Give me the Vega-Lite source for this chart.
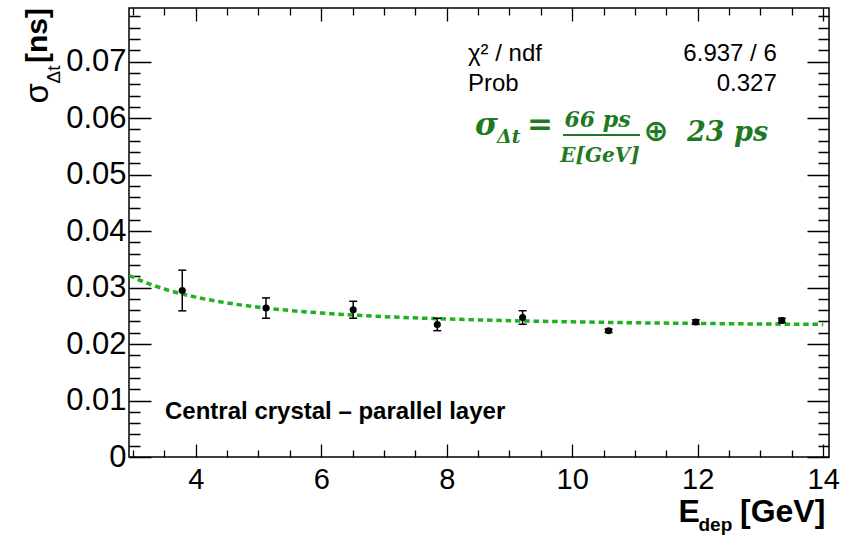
{
  "$schema": "https://vega.github.io/schema/vega-lite/v6.json",
  "width": 700,
  "height": 449,
  "autosize": {"type": "none"},
  "padding": {"left": 129, "top": 8, "right": 26, "bottom": 81},
  "background": "white",
  "config": {
    "view": {"stroke": "black", "strokeWidth": 1.5},
    "font": "Liberation Sans",
    "axis": {
      "domain": false, "grid": false, "ticks": true, "tickSize": 0, "tickWidth": 0,
      "labelColor": "black", "labelFont": "Liberation Sans", "labelFontSize": 29,
      "labelOverlap": false, "labelFlush": false, "labelBound": false,
      "titleColor": "black", "titleFont": "Liberation Sans", "titleFontWeight": "bold"
    }
  },
  "datasets": {
    "points": [
      {"E": 3.786, "s": 0.02948, "lo": 0.02588, "hi": 0.03308},
      {"E": 5.12, "s": 0.02637, "lo": 0.02457, "hi": 0.02817},
      {"E": 6.51, "s": 0.02607, "lo": 0.02457, "hi": 0.02757},
      {"E": 7.85, "s": 0.02347, "lo": 0.02237, "hi": 0.02457},
      {"E": 9.21, "s": 0.0247, "lo": 0.0235, "hi": 0.0259},
      {"E": 10.58, "s": 0.02235, "lo": 0.02205, "hi": 0.02265},
      {"E": 11.97, "s": 0.02389, "lo": 0.02349, "hi": 0.02429},
      {"E": 13.34, "s": 0.02417, "lo": 0.02377, "hi": 0.02457}
    ],
    "fit": [
      {"E": 2.94, "s": 0.03214},
      {"E": 3.25, "s": 0.03068},
      {"E": 3.5, "s": 0.02974},
      {"E": 3.75, "s": 0.02896},
      {"E": 4, "s": 0.02831},
      {"E": 4.5, "s": 0.02728},
      {"E": 5, "s": 0.02652},
      {"E": 5.5, "s": 0.02594},
      {"E": 6, "s": 0.0255},
      {"E": 6.5, "s": 0.02514},
      {"E": 7, "s": 0.02486},
      {"E": 8, "s": 0.02444},
      {"E": 9, "s": 0.02414},
      {"E": 10, "s": 0.02393},
      {"E": 11, "s": 0.02377},
      {"E": 12, "s": 0.02365},
      {"E": 13, "s": 0.02355},
      {"E": 14, "s": 0.02348}
    ]
  },
  "layer": [
    {
      "data": {"name": "points"},
      "mark": {"type": "point", "opacity": 0},
      "encoding": {
        "x": {
          "field": "E", "type": "quantitative",
          "scale": {"domain": [2.937, 14.092], "nice": false, "zero": false},
          "axis": {
            "orient": "bottom",
            "values": [3, 3.5, 4, 4.5, 5, 5.5, 6, 6.5, 7, 7.5, 8, 8.5, 9, 9.5, 10, 10.5, 11, 11.5, 12, 12.5, 13, 13.5, 14],
            "grid": true, "gridColor": "black", "gridOpacity": 1, "gridWidth": 1.3,
            "gridDash": {"condition": {"test": "datum.value % 2 === 0", "value": [13, 423, 13]}, "value": [7, 435, 7]},
            "labelExpr": "datum.value % 2 === 0 ? format(datum.value, 'd') : ''",
            "labelPadding": 8,
            "title": "E",
            "titleFontSize": 32, "titleX": 549, "titleY": 64,
            "titleAlign": "left", "titleBaseline": "alphabetic", "titleAngle": 0
          }
        },
        "y": {
          "field": "s", "type": "quantitative",
          "scale": {"domain": [0, 0.0795], "nice": false, "zero": false},
          "axis": {
            "orient": "left",
            "values": [0, 0.002, 0.004, 0.006, 0.008, 0.01, 0.012, 0.014, 0.016, 0.018, 0.02, 0.022, 0.024, 0.026, 0.028, 0.03, 0.032, 0.034, 0.036, 0.038, 0.04, 0.042, 0.044, 0.046, 0.048, 0.05, 0.052, 0.054, 0.056, 0.058, 0.06, 0.062, 0.064, 0.066, 0.068, 0.07, 0.072, 0.074, 0.076, 0.078],
            "grid": true, "gridColor": "black", "gridOpacity": 1, "gridWidth": 1.3,
            "gridDash": {"condition": {"test": "abs(datum.value*100 - round(datum.value*100)) < 1e-6", "value": [22, 656, 22]}, "value": [11, 678, 11]},
            "labelExpr": "abs(datum.value*100 - round(datum.value*100)) < 1e-6 ? format(datum.value, '.2~f') : ''",
            "labelFontSize": 31,
            "labelPadding": 3,
            "title": "σ",
            "titleFontSize": 33, "titleFontWeight": "normal", "titleX": -82, "titleY": 95,
            "titleAlign": "left", "titleBaseline": "alphabetic", "titleAngle": -90
          }
        }
      }
    },
    {
      "data": {"name": "points"},
      "mark": {"type": "point", "opacity": 0},
      "encoding": {
        "x": {
          "field": "E", "type": "quantitative",
          "scale": {"domain": [2.937, 14.092], "nice": false, "zero": false},
          "axis": {
            "orient": "top", "ticks": false, "labels": false,
            "title": "dep",
            "titleFontSize": 19, "titleX": 569, "titleY": 522,
            "titleAlign": "left", "titleBaseline": "alphabetic", "titleAngle": 0
          }
        },
        "y": {
          "field": "s", "type": "quantitative",
          "scale": {"domain": [0, 0.0795], "nice": false, "zero": false},
          "axis": {
            "orient": "right", "ticks": false, "labels": false,
            "title": "Δt",
            "titleFontSize": 19, "titleFontWeight": "normal", "titleX": -770, "titleY": 75,
            "titleAlign": "left", "titleBaseline": "alphabetic", "titleAngle": -90
          }
        }
      }
    },
    {
      "encoding": {
        "x": {"field": "E", "type": "quantitative", "axis": null,
              "scale": {"domain": [2.937, 14.092], "nice": false, "zero": false}},
        "y": {"field": "s", "type": "quantitative", "axis": null,
              "scale": {"domain": [0, 0.0795], "nice": false, "zero": false}}
      },
      "layer": [
        {
          "data": {"name": "fit"},
          "mark": {"type": "line", "color": "#22b022", "strokeWidth": 3.5, "strokeDash": [5.5, 3.8], "interpolate": "monotone", "clip": true}
        },
        {
          "data": {"name": "points"},
          "mark": {"type": "rule", "color": "black", "strokeWidth": 1.5},
          "encoding": {
            "y": {"field": "lo", "type": "quantitative", "axis": null,
                  "scale": {"domain": [0, 0.0795], "nice": false, "zero": false}},
            "y2": {"field": "hi"}
          }
        },
        {
          "data": {"name": "points"},
          "mark": {"type": "tick", "orient": "horizontal", "color": "black", "size": 8, "thickness": 1.5, "opacity": 1},
          "encoding": {
            "y": {"field": "lo", "type": "quantitative", "axis": null,
                  "scale": {"domain": [0, 0.0795], "nice": false, "zero": false}}
          }
        },
        {
          "data": {"name": "points"},
          "mark": {"type": "tick", "orient": "horizontal", "color": "black", "size": 8, "thickness": 1.5, "opacity": 1},
          "encoding": {
            "y": {"field": "hi", "type": "quantitative", "axis": null,
                  "scale": {"domain": [0, 0.0795], "nice": false, "zero": false}}
          }
        },
        {
          "data": {"name": "points"},
          "mark": {"type": "circle", "color": "black", "size": 50, "opacity": 1}
        },
        {
          "data": {"values": [{"E": 12.674, "s": -0.01145, "t": "[GeV]"}]},
          "mark": {"type": "text", "align": "left", "baseline": "alphabetic", "font": "Liberation Sans", "fontSize": 32, "fontWeight": "bold", "color": "black"},
          "encoding": {"text": {"field": "t"}}
        },
        {
          "data": {"values": [{"E": 1.63, "s": 0.07951, "t": "[ns]"}]},
          "mark": {"type": "text", "align": "right", "baseline": "alphabetic", "angle": 270, "font": "Liberation Sans", "fontSize": 30, "fontWeight": "bold", "color": "black"},
          "encoding": {"text": {"field": "t"}}
        },
        {
          "data": {"values": [
            {"E": 8.339, "s": 0.07013, "t": "χ² / ndf"},
            {"E": 8.339, "s": 0.06481, "t": "Prob"}
          ]},
          "mark": {"type": "text", "align": "left", "baseline": "alphabetic", "font": "Liberation Sans", "fontSize": 24, "color": "black"},
          "encoding": {"text": {"field": "t"}}
        },
        {
          "data": {"values": [
            {"E": 13.26, "s": 0.07013, "t": "6.937 / 6"},
            {"E": 13.26, "s": 0.06481, "t": "0.327"}
          ]},
          "mark": {"type": "text", "align": "right", "baseline": "alphabetic", "font": "Liberation Sans", "fontSize": 24, "color": "black"},
          "encoding": {"text": {"field": "t"}}
        },
        {
          "data": {"values": [{"E": 3.511, "s": 0.00678, "t": "Central crystal – parallel layer"}]},
          "mark": {"type": "text", "align": "left", "baseline": "alphabetic", "font": "Liberation Sans", "fontSize": 24, "fontWeight": "bold", "color": "black"},
          "encoding": {"text": {"field": "t"}}
        },
        {
          "data": {"values": [{"E": 8.451, "s": 0.05703, "t": "σ"}]},
          "mark": {"type": "text", "align": "left", "baseline": "alphabetic", "font": "DejaVu Serif", "fontSize": 31, "fontWeight": "bold", "fontStyle": "italic", "color": "#1f7a1f"},
          "encoding": {"text": {"field": "t"}}
        },
        {
          "data": {"values": [{"E": 8.802, "s": 0.05562, "t": "Δt"}]},
          "mark": {"type": "text", "align": "left", "baseline": "alphabetic", "font": "DejaVu Serif", "fontSize": 19, "fontWeight": "bold", "fontStyle": "italic", "color": "#1f7a1f"},
          "encoding": {"text": {"field": "t"}}
        },
        {
          "data": {"values": [{"E": 9.487, "s": 0.05703, "t": "="}]},
          "mark": {"type": "text", "align": "center", "baseline": "alphabetic", "font": "DejaVu Serif", "fontSize": 31, "fontWeight": "bold", "color": "#1f7a1f"},
          "encoding": {"text": {"field": "t"}}
        },
        {
          "data": {"values": [{"E": 10.403, "s": 0.05845, "t": "66 ps"}]},
          "mark": {"type": "text", "align": "center", "baseline": "alphabetic", "font": "DejaVu Serif", "fontSize": 22, "fontWeight": "bold", "fontStyle": "italic", "color": "#1f7a1f"},
          "encoding": {"text": {"field": "t"}}
        },
        {
          "data": {"values": [{"E": 10.443, "s": 0.05226, "t": "E[GeV]"}]},
          "mark": {"type": "text", "align": "center", "baseline": "alphabetic", "font": "DejaVu Serif", "fontSize": 20, "fontWeight": "bold", "fontStyle": "italic", "color": "#1f7a1f"},
          "encoding": {"text": {"field": "t"}}
        },
        {
          "data": {"values": [{"E": 9.853, "E2": 11.08, "s": 0.05703}]},
          "mark": {"type": "rule", "color": "#1f7a1f", "strokeWidth": 2},
          "encoding": {"x2": {"field": "E2"}}
        },
        {
          "data": {"values": [{"E": 11.335, "s": 0.05597, "t": "⊕"}]},
          "mark": {"type": "text", "align": "center", "baseline": "alphabetic", "font": "DejaVu Sans", "fontSize": 30, "fontWeight": "bold", "color": "#1f7a1f"},
          "encoding": {"text": {"field": "t"}}
        },
        {
          "data": {"values": [{"E": 11.83, "s": 0.05593, "t": "23 ps"}]},
          "mark": {"type": "text", "align": "left", "baseline": "alphabetic", "font": "DejaVu Serif", "fontSize": 27, "fontWeight": "bold", "fontStyle": "italic", "color": "#1f7a1f"},
          "encoding": {"text": {"field": "t"}}
        }
      ]
    }
  ],
  "resolve": {"axis": {"x": "independent", "y": "independent"}}
}
